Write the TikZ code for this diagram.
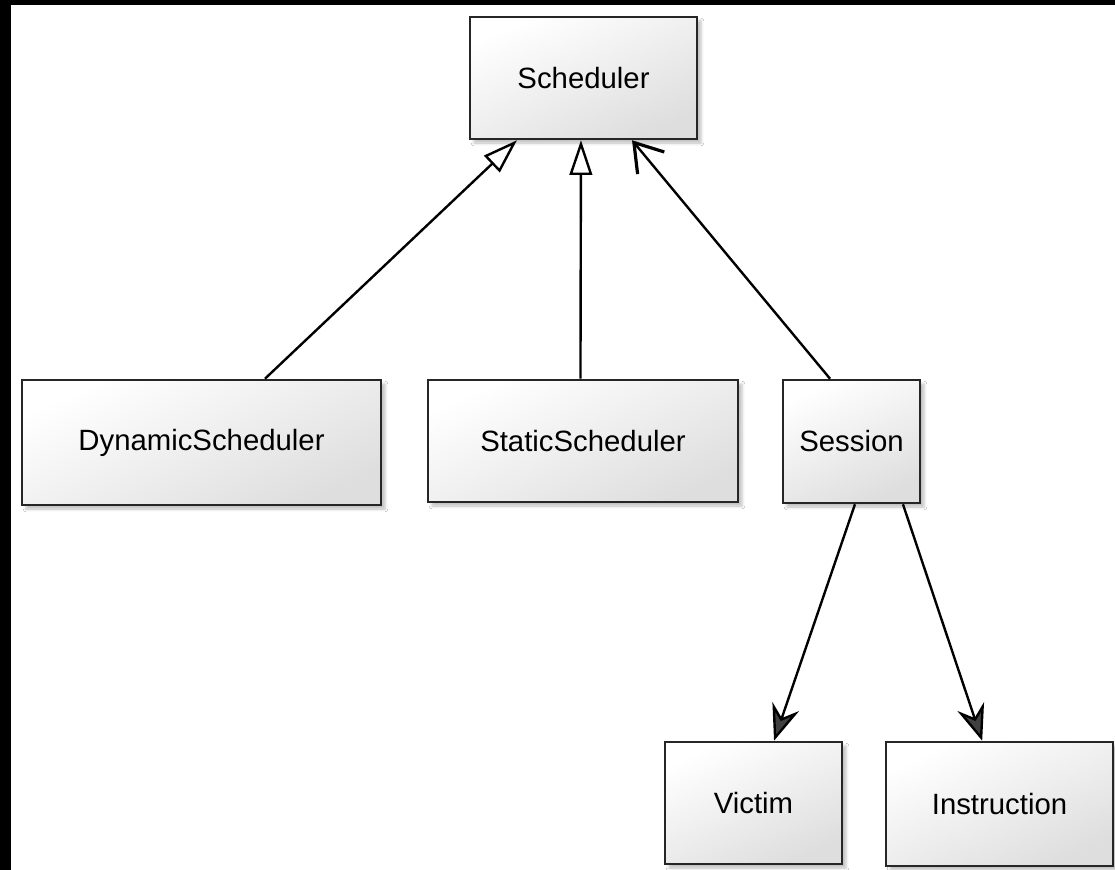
\documentclass[tikz,border=0pt]{standalone}
\usepackage{fontspec}
\setmainfont{Liberation Sans}
\usetikzlibrary{arrows.meta,shadows.blur}

\tikzset{
  classbox/.style={draw=black!85, line width=1.9pt, top color=white, bottom color=black!13,
    shading angle=25, blur shadow={shadow xshift=3pt, shadow yshift=-3pt, shadow opacity=25},
    inner sep=0pt, font=\fontsize{22}{26}\selectfont},
  inherit/.style={line width=1.8pt, -{Triangle[open, length=26pt, width=17pt, line width=1.8pt]}},
  assoc/.style={line width=1.8pt, -{Straight Barb[length=20pt, width=26pt, line width=2.4pt]}},
  owns/.style={line width=1.8pt, -{Stealth[length=27pt, width=21pt, inset=9pt, fill=black!75]}}
}

\begin{document}
\begin{tikzpicture}[x=0.75pt,y=0.75pt,yscale=-1,xscale=1]
\useasboundingbox (0,0) rectangle (1115,870);
\fill[white] (0,0) rectangle (1115,870);
%dark frame of the page
\fill[black] (0,0) rectangle (11,870);
\fill[black] (0,0) rectangle (1115,5);

% Class boxes
\node [classbox, minimum width=170.25pt, minimum height=91.5pt] (sched) at (583.5,78) {Scheduler};
\node [classbox, minimum width=269.25pt, minimum height=93.75pt] (dyn) at (201.5,442.5) {DynamicScheduler};
\node [classbox, minimum width=232.5pt, minimum height=91.5pt] (stat) at (583,441) {StaticScheduler};
\node [classbox, minimum width=102.75pt, minimum height=92.25pt] (sess) at (851.5,441.5) {Session};
\node [classbox, minimum width=132.75pt, minimum height=91.5pt] (vic) at (753.5,803) {Victim};
\node [classbox, minimum width=170pt, minimum height=93pt] (ins) at (999.5,804) {Instruction};

% Connectors
\draw [inherit] ([xshift=47.6pt]dyn.north) -- ([xshift=-49.9pt]sched.south);
\draw [inherit] ([xshift=-1.9pt]stat.north) -- ([xshift=-1.9pt]sched.south);
\draw [assoc] ([xshift=-16.1pt]sess.north) -- ([xshift=36.4pt]sched.south);
\draw [owns] ([xshift=2.6pt]sess.south) -- ([xshift=15.4pt]vic.north);
\draw [owns] ([xshift=38.6pt]sess.south) -- ([xshift=-13pt]ins.north);

\end{tikzpicture}
\end{document}
